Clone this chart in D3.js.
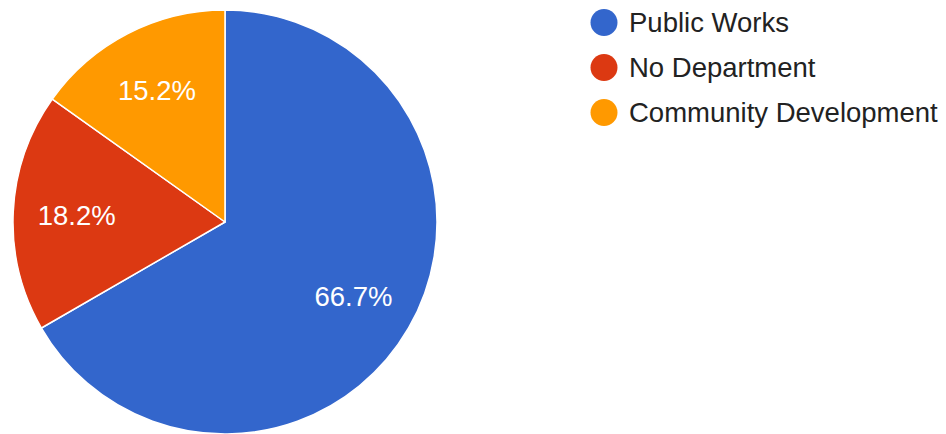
<!DOCTYPE html>
<html>
<head>
<meta charset="utf-8">
<script src="https://cdn.jsdelivr.net/npm/d3@7"></script>
<style>
  html, body { margin: 0; padding: 0; background: #fff; }
  svg { display: block; font-family: Arial, "Liberation Sans", sans-serif; }
</style>
</head>
<body>
<svg id="chart"></svg>
<script>
// slice data, in drawing order (clockwise from 12 o'clock)
const departments = ["Public Works", "No Department", "Community Development"];
const counts = [22, 6, 5];
const colors = ["#3366cc", "#dc3912", "#ff9900"];

const width = 946;
const height = 434;
const cx = 225, cy = 222, radius = 212;

const svg = d3.select("#chart")
    .attr("width", width)
    .attr("height", height)
    .attr("viewBox", `0 0 ${width} ${height}`);

const pie = d3.pie().sort(null).value((d) => d.count);
const arcs = pie(departments.map((name, i) => ({ name, count: counts[i], color: colors[i] })));
const total = d3.sum(counts);

const arc = d3.arc().innerRadius(0).outerRadius(radius);
const labelArc = d3.arc().innerRadius(radius * 0.7).outerRadius(radius * 0.7);

const chart = svg.append("g").attr("transform", `translate(${cx},${cy})`);

chart.selectAll("path")
    .data(arcs)
    .join("path")
    .attr("d", arc)
    .attr("fill", (d) => d.data.color)
    .attr("stroke", "#fff")
    .attr("stroke-width", 1.5)
    .attr("stroke-linejoin", "round");

chart.selectAll("text")
    .data(arcs)
    .join("text")
    .attr("transform", (d) => `translate(${labelArc.centroid(d)})`)
    .attr("text-anchor", "middle")
    .attr("dy", "0.35em")
    .attr("fill", "#fff")
    .attr("font-size", 27.5)
    .text((d) => (d.data.count / total * 100).toFixed(1) + "%");

// legend
const legend = svg.append("g").attr("transform", "translate(604,22.5)");
const rows = legend.selectAll("g")
    .data(arcs)
    .join("g")
    .attr("transform", (d, i) => `translate(0,${i * 45})`);

rows.append("circle")
    .attr("r", 13.5)
    .attr("fill", (d) => d.data.color);

rows.append("text")
    .attr("x", 25)
    .attr("dy", "0.35em")
    .attr("fill", "#222")
    .attr("font-size", 27.5)
    .text((d) => d.data.name);
</script>
</body>
</html>
